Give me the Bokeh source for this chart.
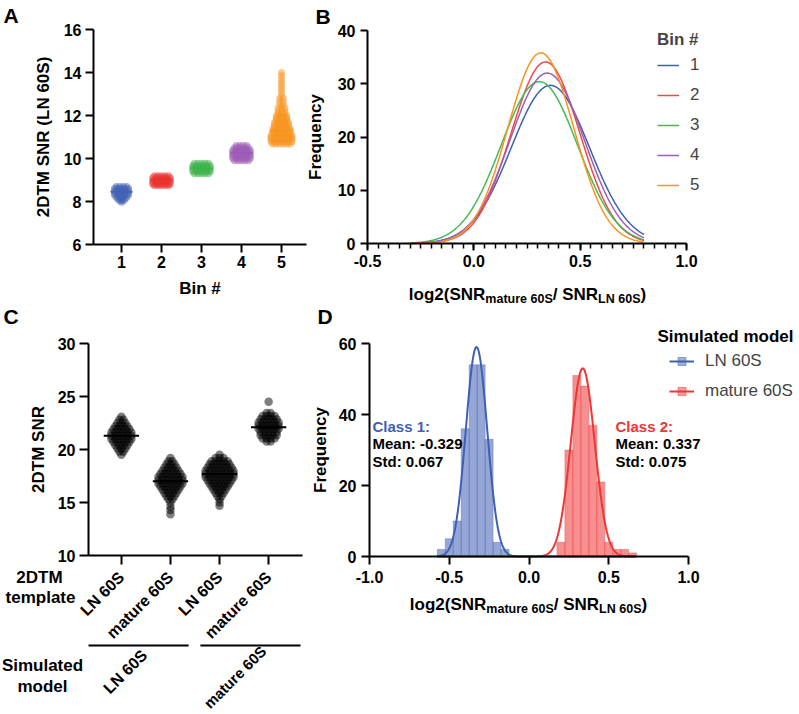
import numpy as np
from math import pi
from bokeh.plotting import figure
from bokeh.models import (Range1d, FixedTicker, SingleIntervalTicker, PrintfTickFormatter,
                          Label, Legend, LegendItem, LinearAxis)
from bokeh.embed import file_html
from bokeh.resources import INLINE

FONT = "Liberation Sans"

# ---------------- DATA ----------------
# Panel A : 2DTM SNR per bin (levels of the point clouds and number of points at each level)
bin_names = ["1", "2", "3", "4", "5"]
bin_colors = ["#3f5fb4", "#ec2f2b", "#3cb44a", "#9c59b5", "#f7931e"]
bin1_levels = [8.70, 8.60, 8.50, 8.40, 8.30, 8.20, 8.10, 8.03, 7.96]
bin1_counts = [4, 5, 5, 5, 5, 4, 3, 2, 1]
bin2_levels = [9.20, 9.10, 9.00, 8.90, 8.80, 8.74]
bin2_counts = [5, 6, 6, 6, 6, 5]
bin3_levels = [9.78, 9.68, 9.58, 9.48, 9.38, 9.29]
bin3_counts = [5, 6, 6, 6, 6, 5]
bin4_levels = [10.60, 10.50, 10.40, 10.30, 10.20, 10.10, 10.00, 9.90]
bin4_counts = [4, 5, 6, 6, 6, 6, 6, 5]
bin5_levels = [10.68, 10.78, 10.88, 10.98, 11.08, 11.18, 11.28, 11.38, 11.48, 11.58, 11.68,
               11.78, 11.88, 11.98, 12.08, 12.20, 12.35, 12.50, 12.65, 12.80, 12.95, 13.10,
               13.25, 13.40, 13.55, 13.70, 13.85, 14.00]
bin5_counts = [6, 7, 7, 7, 7, 6, 6, 6, 5, 5, 5, 4, 4, 4, 3, 3, 3, 2, 2, 2, 1, 1, 1, 1, 1, 1, 1, 1]
bin_means = [8.45, 9.00, 9.55, 10.25, 11.30]
a_yticks = [6, 8, 10, 12, 14, 16]

# Panel B : Gaussian fits per bin
b_colors = ["#3f5fb0", "#f04848", "#45b956", "#9b5fb5", "#f7931e"]
b_amp = [29.7, 34.1, 30.4, 32.0, 35.8]
b_mean = [0.360, 0.337, 0.308, 0.345, 0.315]
b_std = [0.184, 0.162, 0.180, 0.175, 0.155]
b_fit_start, b_fit_end = -0.3, 0.8
b_yticks = [0, 10, 20, 30, 40]

# Panel C : 2DTM SNR per template / simulated model
c_template = ["LN 60S", "mature 60S", "LN 60S", "mature 60S"]
c_model = ["LN 60S", "mature 60S"]
c1_levels = [23.1, 22.8, 22.5, 22.2, 21.9, 21.6, 21.3, 21.0, 20.7, 20.4, 20.1, 19.8, 19.5]
c1_counts = [1, 2, 3, 4, 5, 6, 6, 6, 5, 4, 3, 2, 1]
c2_levels = [19.2, 18.9, 18.6, 18.3, 18.0, 17.7, 17.4, 17.1, 16.8, 16.5, 16.2, 15.9, 15.6,
             15.3, 15.0, 14.6, 14.3, 13.9]
c2_counts = [1, 2, 3, 4, 5, 6, 7, 7, 7, 6, 5, 4, 3, 2, 1, 1, 1, 1]
c3_levels = [19.5, 19.2, 18.9, 18.6, 18.3, 18.0, 17.7, 17.4, 17.1, 16.8, 16.5, 16.2, 15.9,
             15.6, 15.3, 15.0, 14.7]
c3_counts = [1, 3, 5, 6, 7, 8, 8, 8, 7, 6, 5, 4, 3, 2, 1, 1, 1]
c4_levels = [24.5, 23.45, 23.15, 22.85, 22.55, 22.25, 21.95, 21.65, 21.35, 21.05, 20.75]
c4_counts = [1, 2, 4, 5, 6, 6, 6, 5, 5, 4, 2]
c_means = [21.3, 17.0, 17.7, 22.1]
c_yticks = [10, 15, 20, 25, 30]

# Panel D : histograms of log2 ratio and Gaussian fits
d_models = ["LN 60S", "mature 60S"]
d_colors = ["#3f5fb5", "#ef3535"]
d_bin_width = 0.05
d_ln_centers = [-0.55, -0.50, -0.45, -0.40, -0.35, -0.30, -0.25, -0.20, -0.15]
d_ln_counts = [2, 5, 10, 36, 54, 54, 33, 4, 2]
d_mat_centers = [0.20, 0.25, 0.30, 0.35, 0.40, 0.45, 0.50, 0.55, 0.60, 0.65]
d_mat_counts = [4, 30, 51, 48, 37, 21, 4, 2, 2, 1]
d_fit_amp = [59.0, 53.0]
d_fit_mean = [-0.329, 0.337]
d_fit_std = [0.067, 0.075]
d_fit_start, d_fit_end = -0.575, 0.67
d_xticks = [-1.0, -0.5, 0.0, 0.5, 1.0]
d_yticks = [0, 20, 40, 60]

# ---------------- CANVAS ----------------
W, H = 797, 712
p = figure(width=W, height=H, x_range=Range1d(0, W), y_range=Range1d(0, H),
           x_axis_location=None, y_axis_location=None, output_backend="svg",
           toolbar_location=None, min_border=0)
p.outline_line_color = None
p.grid.visible = False
p.background_fill_color = "white"

W_BOLD = {'l': 278, 'o': 611, 'g': 611, '2': 556, '(': 333, 'S': 667, 'N': 722, 'R': 722,
          'm': 889, 'a': 556, 't': 333, 'u': 611, 'r': 389, 'e': 556, ' ': 278, '6': 556,
          '0': 556, '/': 278, 'L': 611, ')': 333}


def tw(s, size):
    return sum(W_BOLD.get(ch, 556) for ch in s) / 1000.0 * size


xr_extra, yr_extra = {}, {}


class Panel:
    """A panel = a pair of named ranges mapping its data onto a pixel box of the canvas."""
    def __init__(self, name, fx0, fx1, xr, fy0, fy1, yr):
        self.xn, self.yn = name + "_x", name + "_y"
        self.xr, self.yr = xr, yr
        self.sx = (fx1 - fx0) / (xr[1] - xr[0])
        self.sy = (fy1 - fy0) / (yr[1] - yr[0])
        self.fx0, self.fy1 = fx0, fy1
        xr_extra[self.xn] = Range1d(xr[0] - fx0 / self.sx, xr[0] + (W - fx0) / self.sx)
        yr_extra[self.yn] = Range1d(yr[0] - (H - fy1) / self.sy, yr[0] + fy1 / self.sy)

    def kw(self):
        return dict(x_range_name=self.xn, y_range_name=self.yn)

    def y_of(self, py):
        return self.yr[0] + (self.fy1 - py) / self.sy

    def axes(self, xticker, yticks, tick, xlabel="", ylabel="", xfmt=None):
        xa = LinearAxis(x_range_name=self.xn, y_range_name=self.yn, fixed_location=self.yr[0],
                        bounds=self.xr, ticker=xticker, axis_label=xlabel)
        ya = LinearAxis(x_range_name=self.xn, y_range_name=self.yn, fixed_location=self.xr[0],
                        bounds=self.yr, ticker=FixedTicker(ticks=yticks), axis_label=ylabel)
        if xfmt:
            xa.formatter = PrintfTickFormatter(format=xfmt)
        for ax in (xa, ya):
            ax.axis_line_width = 2
            ax.axis_line_color = "black"
            ax.major_tick_line_width = 2
            ax.major_tick_line_color = "black"
            ax.major_tick_out = tick
            ax.major_tick_in = 0
            ax.minor_tick_line_color = None
            ax.major_label_text_font = FONT
            ax.major_label_text_font_style = "bold"
            ax.major_label_text_font_size = "16px"
            ax.major_label_text_color = "black"
            ax.major_label_standoff = 4
            ax.axis_label_text_font = FONT
            ax.axis_label_text_font_style = "bold"
            ax.axis_label_text_font_size = "17px"
            ax.axis_label_text_color = "black"
        p.add_layout(xa, "below")
        p.add_layout(ya, "left")
        return xa, ya


def label(px, py, text, size=17, bold=True, color="black", align="left",
          baseline="middle", angle=0.0):
    p.add_layout(Label(x=px, y=H - py, text=text, text_font=FONT,
                       text_font_size=f"{size}px", text_font_style="bold" if bold else "normal",
                       text_color=color, text_align=align, text_baseline=baseline,
                       angle=angle))


def composite_label(cx, base, parts):
    total = sum(tw(t, s) for t, s, d in parts)
    x = cx - total / 2
    for t, s, d in parts:
        label(x, base + d, t, size=s, baseline="alphabetic")
        x += tw(t, s)


def swarm(levels, counts, center, dx):
    xs, ys = [], []
    for lv, n in zip(levels, counts):
        for k in range(n):
            xs.append(center + (k - (n - 1) / 2) * dx)
            ys.append(lv)
    return xs, ys


def gauss(x, a, mu, sd):
    return a * np.exp(-(x - mu) ** 2 / (2 * sd ** 2))


# ---------------- PANEL A ----------------
A = Panel("A", 93, 306, (0.3, 5.625), 29, 244, (6, 16))
xa, ya = A.axes(FixedTicker(ticks=[1, 2, 3, 4, 5]), a_yticks, 8, "Bin #", "2DTM SNR (LN 60S)")
xa.major_label_standoff = 3
xa.axis_label_standoff = 8
ya.axis_label_standoff = 8
a_levels = [bin1_levels, bin2_levels, bin3_levels, bin4_levels, bin5_levels]
a_counts = [bin1_counts, bin2_counts, bin3_counts, bin4_counts, bin5_counts]
dxA = 3.5 / A.sx
for i in range(5):
    c = i + 1
    p.segment(x0=[c - 0.28], x1=[c + 0.28], y0=[bin_means[i]], y1=[bin_means[i]],
              line_color=bin_colors[i], line_width=2, line_alpha=0.8, **A.kw())
    xs, ys = swarm(a_levels[i], a_counts[i], c, dxA)
    p.scatter(xs, ys, size=7, fill_color=bin_colors[i], fill_alpha=0.5, line_color=None, **A.kw())
label(3, 15, "A", size=21)

# ---------------- PANEL B ----------------
B = Panel("B", 367, 686, (-0.5, 1.0), 30, 243, (0, 40))
xb, yb = B.axes(SingleIntervalTicker(interval=0.5, num_minor_ticks=10), b_yticks, 7,
                "", "Frequency", xfmt="%.1f")
xb.minor_tick_line_color = "black"
xb.minor_tick_line_width = 1.5
xb.minor_tick_out = 5
xb.minor_tick_in = 0
xb.major_label_standoff = 4
yb.axis_label_standoff = 10
yb.major_label_standoff = 5
xx = np.linspace(b_fit_start, b_fit_end, 300)
b_items = []
for i in range(5):
    r = p.line(xx, gauss(xx, b_amp[i], b_mean[i], b_std[i]), line_color=b_colors[i],
               line_width=1.5, **B.kw())
    b_items.append(LegendItem(label=bin_names[i], renderers=[r]))
legB = Legend(items=b_items, location=(657, H - 195), title="Bin #")
legB.title_text_font = FONT
legB.title_text_font_style = "bold"
legB.title_text_font_size = "17px"
legB.title_standoff = 5
legB.label_text_font = FONT
legB.label_text_font_size = "17px"
legB.glyph_width = 22
legB.glyph_height = 20
legB.label_height = 20
legB.spacing = 10
legB.label_standoff = 11
legB.padding = 0
legB.margin = 0
legB.border_line_color = None
legB.background_fill_alpha = 0
p.add_layout(legB)
composite_label(527, 294, [("log2(SNR", 17, 0), ("mature 60S", 12.5, 4),
                           ("/ SNR", 17, 0), ("LN 60S", 12.5, 4), (")", 17, 0)])
label(315, 16, "B", size=21)

# ---------------- PANEL C ----------------
C = Panel("C", 88, 302, (0.33, 4.69), 343, 555, (10, 30))
xc, yc = C.axes(FixedTicker(ticks=[1, 2, 3, 4]), c_yticks, 9, "", "2DTM SNR")
xc.major_label_overrides = {i + 1: t for i, t in enumerate(c_template)}
xc.major_label_orientation = pi / 4
xc.major_label_text_font_size = "16px"
xc.major_label_standoff = 10
yc.axis_label_standoff = 7
c_levels = [c1_levels, c2_levels, c3_levels, c4_levels]
c_counts = [c1_counts, c2_counts, c3_counts, c4_counts]
dxC = 4.0 / C.sx
for i in range(4):
    c = i + 1
    p.segment(x0=[c - 0.36], x1=[c + 0.36], y0=[c_means[i]], y1=[c_means[i]],
              line_color="black", line_width=2, **C.kw())
    xs, ys = swarm(c_levels[i], c_counts[i], c, dxC)
    p.scatter(xs, ys, size=8.5, fill_color="black", fill_alpha=0.5, line_color=None, **C.kw())
label(39, 577, "2DTM", align="center")
label(40, 597, "template", align="center")
label(42, 665, "Simulated", align="center")
label(42, 686, "model", align="center")
# group brackets below the template labels: categories 1-2 and 3-4
yb_line = C.y_of(645)
p.segment(x0=[1 - 0.67, 3 - 0.39], x1=[2 + 0.37, 4 + 0.65], y0=[yb_line, yb_line],
          y1=[yb_line, yb_line], line_color="black", line_width=2, **C.kw())
label(144, 652, c_model[0], size=16, align="right", angle=pi / 4)
label(263, 648, c_model[1], size=15, align="right", angle=pi / 4)
label(3, 316, "C", size=21)

# ---------------- PANEL D ----------------
D = Panel("D", 369, 688, (-1.0, 1.0), 343, 556, (0, 60))
xd_ax, yd_ax = D.axes(FixedTicker(ticks=d_xticks), d_yticks, 8, "", "Frequency", xfmt="%.1f")
xd_ax.major_label_standoff = 6
yd_ax.axis_label_standoff = 6
yd_ax.major_label_standoff = 5
hw = d_bin_width / 2
centers = [d_ln_centers, d_mat_centers]
counts = [d_ln_counts, d_mat_counts]
for i in range(2):
    cc = np.array(centers[i])
    p.quad(left=cc - hw, right=cc + hw, top=counts[i], bottom=0,
           fill_color=d_colors[i], fill_alpha=0.55, line_color=d_colors[i], line_alpha=0.35,
           line_width=1, **D.kw())
xd = np.linspace(d_fit_start, d_fit_end, 400)
d_items = []
for i in range(2):
    r = p.line(xd, gauss(xd, d_fit_amp[i], d_fit_mean[i], d_fit_std[i]),
               line_color=d_colors[i], line_width=2, **D.kw())
    # legend-only marker (a histogram swatch): one point with no position, so nothing is plotted
    sq = p.scatter(x=[np.nan], y=[np.nan], marker="square", size=11, fill_color=d_colors[i],
                   fill_alpha=0.5, line_color=d_colors[i], line_alpha=0.5, **D.kw())
    d_items.append(LegendItem(label=d_models[i], renderers=[r, sq]))
legD = Legend(items=d_items, location=(669, H - 401))
legD.label_text_font = FONT
legD.label_text_font_size = "17px"
legD.glyph_width = 25
legD.glyph_height = 20
legD.label_height = 20
legD.spacing = 10
legD.label_standoff = 11
legD.padding = 0
legD.margin = 0
legD.border_line_color = None
legD.background_fill_alpha = 0
p.add_layout(legD)
label(657, 336, "Simulated model", size=17)
label(372, 426, "Class 1:", size=15, color=d_colors[0])
label(372, 443, f"Mean: {d_fit_mean[0]:.3f}", size=15)
label(372, 461, f"Std: {d_fit_std[0]:.3f}", size=15)
label(615, 426, "Class 2:", size=15, color=d_colors[1])
label(615, 443, f"Mean: {d_fit_mean[1]:.3f}", size=15)
label(615, 461, f"Std: {d_fit_std[1]:.3f}", size=15)
composite_label(528, 604, [("log2(SNR", 17, 0), ("mature 60S", 12.5, 4),
                           ("/ SNR", 17, 0), ("LN 60S", 12.5, 4), (")", 17, 0)])
label(317, 316, "D", size=21)

p.extra_x_ranges = xr_extra
p.extra_y_ranges = yr_extra

open("out.html", "w").write(file_html(p, INLINE))
